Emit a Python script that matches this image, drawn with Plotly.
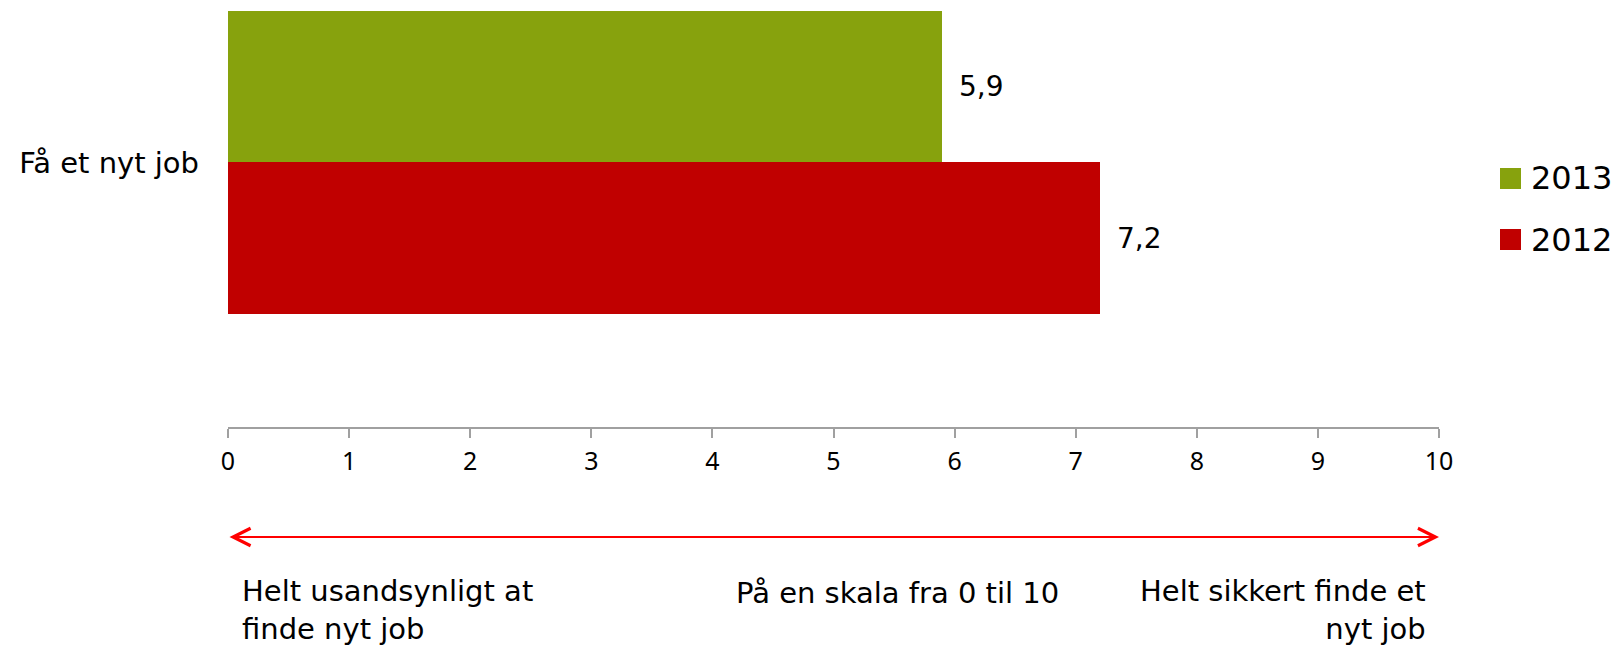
import plotly.graph_objects as go

# ---- data ----
categories = ["Få et nyt job"]
series_names = ["2012", "2013"]
values_2012 = [7.2]
values_2013 = [5.9]
series_colors = ["#C00000", "#87A20D"]
x_tick_values = [0, 1, 2, 3, 4, 5, 6, 7, 8, 9, 10]
left_note = "Helt usandsynligt at<br>finde nyt job"
middle_note = "På en skala fra 0 til 10"
right_note = "Helt sikkert finde et<br>nyt job"

FONT = "DejaVu Sans"
TICKFONT = "Noto Sans"
W, H = 1616, 647
ML, MR, MT, MB = 228, 177, 11, 220
PW = W - ML - MR
PH = H - MT - MB


def px_x(p):
    return (p - ML) / PW


def px_y(p):
    return (H - MB - p) / PH


fig = go.Figure()
for name, vals, col in zip(series_names, [values_2012, values_2013], series_colors):
    fig.add_trace(go.Bar(
        y=categories, x=vals, name=name, orientation="h",
        marker=dict(color=col, line=dict(width=0)),
        texttemplate="\u2002%{x:.1f}", textposition="outside",
        textfont=dict(family=FONT, size=28, color="#000000"),
        cliponaxis=False, showlegend=False,
    ))

fig.update_layout(
    width=W, height=H,
    margin=dict(l=ML, r=MR, t=MT, b=MB),
    paper_bgcolor="white", plot_bgcolor="white",
    barmode="group", bargap=0, bargroupgap=0,
    separators=",.",
    font=dict(family=FONT, size=29, color="#000000"),
    showlegend=False,
)
fig.update_xaxes(
    range=[0, 10], tickvals=x_tick_values, ticktext=[str(v) for v in x_tick_values],
    showgrid=False, zeroline=False, showline=True, linecolor="#A0A0A0", linewidth=2,
    ticks="outside", ticklen=9, tickwidth=2, tickcolor="#A0A0A0",
    tickfont=dict(family=TICKFONT, size=25, color="#000000"),
    ticklabelstandoff=2,
)
fig.update_yaxes(
    type="category", range=[-0.873, 0.5], showgrid=False, zeroline=False,
    showline=False, ticks="",
    tickfont=dict(family=FONT, size=29, color="#000000"),
    ticklabelstandoff=28,
)

# custom legend (2013 on top, 2012 below)
legend_rows = [("2013", series_colors[1], 178.5), ("2012", series_colors[0], 239.5)]
for name, col, cy in legend_rows:
    fig.add_shape(type="rect", xref="paper", yref="paper",
                  x0=px_x(1500), x1=px_x(1521), y0=px_y(cy + 10.5), y1=px_y(cy - 10.5),
                  fillcolor=col, line=dict(width=0))
    fig.add_annotation(xref="paper", yref="paper", x=px_x(1529), y=px_y(cy),
                       xanchor="left", yanchor="middle", text=name, showarrow=False,
                       font=dict(family=FONT, size=32, color="#000000"))

# double-headed red arrow
fig.add_annotation(x=10, y=px_y(537), xref="x", yref="paper",
                   ax=0, axref="x", ay=0, ayref="pixel",
                   text="", showarrow=True, arrowhead=5, startarrowhead=5,
                   arrowside="end+start", arrowsize=1.7, startarrowsize=1.7,
                   arrowwidth=2, arrowcolor="#FF0000")

# bottom notes
fig.add_annotation(xref="paper", yref="paper", x=px_x(240), y=px_y(610),
                   xanchor="left", yanchor="middle", align="left", text=left_note,
                   showarrow=False, font=dict(family=FONT, size=29, color="#000000"))
fig.add_annotation(xref="paper", yref="paper", x=px_x(897), y=px_y(593),
                   xanchor="center", yanchor="middle", align="center", text=middle_note,
                   showarrow=False, font=dict(family=FONT, size=29, color="#000000"))
fig.add_annotation(xref="paper", yref="paper", x=px_x(1428), y=px_y(610),
                   xanchor="right", yanchor="middle", align="right", text=right_note,
                   showarrow=False, font=dict(family=FONT, size=29, color="#000000"))

fig.write_html(
    "out.html",
    config={"displayModeBar": False},
    post_script="document.body.style.margin='0';document.body.style.overflow='hidden';",
)
